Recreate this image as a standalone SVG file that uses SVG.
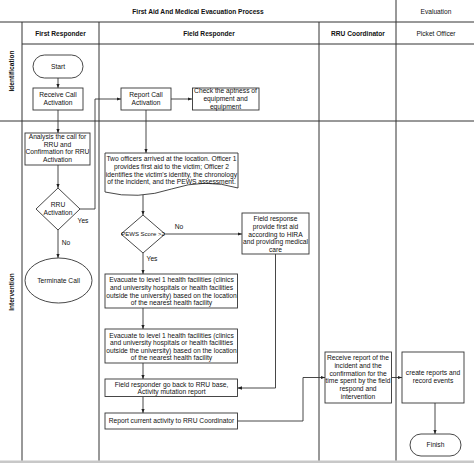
<svg xmlns="http://www.w3.org/2000/svg" width="474" height="463" viewBox="0 0 474 463">
<style>
  .lane{stroke:#333;stroke-width:1;fill:none}
  .box{fill:#fff;stroke:#333;stroke-width:0.9}
  .t{font-family:"Liberation Sans",Arial,sans-serif;font-size:6.7px;fill:#111;text-anchor:middle}
  .h{font-family:"Liberation Sans",Arial,sans-serif;font-size:6.6px;font-weight:bold;fill:#111;text-anchor:middle}
  .hr{font-family:"Liberation Sans",Arial,sans-serif;font-size:6.6px;fill:#111;text-anchor:middle}
  .c{fill:none;stroke:#333;stroke-width:0.9}
</style>
<defs>
  <marker id="ah" viewBox="0 0 10 10" refX="10" refY="5" markerWidth="4.5" markerHeight="4.5" markerUnits="userSpaceOnUse" orient="auto">
    <path d="M0,1 L10,5 L0,9 Z" fill="#222"/>
  </marker>
</defs>
<rect x="0" y="0" width="474" height="463" fill="#fff"/>
<rect x="0" y="460.5" width="474" height="2.5" fill="#c8c8c8"/>

<g id="pool">
  <line class="lane" x1="0" y1="22" x2="474" y2="22"/>
  <line class="lane" x1="22" y1="44" x2="474" y2="44"/>
  <line class="lane" x1="0" y1="121" x2="474" y2="121"/>
  <line class="lane" x1="22" y1="22" x2="22" y2="460.5"/>
  <line class="lane" x1="99" y1="22" x2="99" y2="460.5"/>
  <line class="lane" x1="319" y1="22" x2="319" y2="460.5"/>
  <line class="lane" x1="396" y1="0" x2="396" y2="460.5"/>
  <text class="h" x="198" y="13.5">First Aid And Medical Evacuation Process</text>
  <text class="hr" x="436" y="13.5">Evaluation</text>
  <text class="h" x="60.5" y="35.5">First Responder</text>
  <text class="h" x="209" y="35.5">Field Responder</text>
  <text class="h" x="358" y="35.5">RRU Coordinator</text>
  <text class="hr" x="436" y="35.5">Picket Officer</text>
  <text class="h" transform="translate(13.5,71) rotate(-90)">Identification</text>
  <text class="h" transform="translate(13.5,292) rotate(-90)">Intervention</text>
</g>

<g id="connectors">
  <path class="c" d="M58,78 V88" marker-end="url(#ah)"/>
  <path class="c" d="M58,110 V133" marker-end="url(#ah)"/>
  <path class="c" d="M58,165 V188" marker-end="url(#ah)"/>
  <path class="c" d="M58,230 V258" marker-end="url(#ah)"/>
  <path class="c" d="M80,209 H95 V99 H121" marker-end="url(#ah)"/>
  <path class="c" d="M171,99 H192" marker-end="url(#ah)"/>
  <path class="c" d="M146,110 V153" marker-end="url(#ah)"/>
  <path class="c" d="M143,195 V215" marker-end="url(#ah)"/>
  <path class="c" d="M165,234 H242" marker-end="url(#ah)"/>
  <path class="c" d="M143,253 V274" marker-end="url(#ah)"/>
  <path class="c" d="M143,308 V329" marker-end="url(#ah)"/>
  <path class="c" d="M143,363 V379" marker-end="url(#ah)"/>
  <path class="c" d="M143,396.5 V413" marker-end="url(#ah)"/>
  <path class="c" d="M275.5,254 V388 H237.5" marker-end="url(#ah)"/>
  <path class="c" d="M237.5,421 H303 V377.5 H325" marker-end="url(#ah)"/>
  <path class="c" d="M391.5,377.5 H402" marker-end="url(#ah)"/>
  <path class="c" d="M435,403 V434" marker-end="url(#ah)"/>
  <text class="t" x="83" y="222.5">Yes</text>
  <text class="t" x="66" y="244.5">No</text>
  <text class="t" x="179" y="228.5">No</text>
  <text class="t" x="152" y="260.5">Yes</text>
</g>

<g id="start">
  <rect class="box" x="33" y="55" width="50" height="23" rx="11.5"/>
  <text class="t" x="58" y="68.5">Start</text>
</g>
<g id="receive-call">
  <rect class="box" x="33" y="88" width="50" height="22"/>
  <text class="t" x="58" y="97.4">Receive Call</text>
  <text class="t" x="58" y="105.4">Activation</text>
</g>
<g id="report-call">
  <rect class="box" x="121" y="88" width="50" height="22"/>
  <text class="t" x="146" y="97.4">Report Call</text>
  <text class="t" x="146" y="105.4">Activation</text>
</g>
<g id="check-aptness">
  <rect class="box" x="192.5" y="88" width="66.5" height="22"/>
  <text class="t" x="225.5" y="93.4">Check the aptness of</text>
  <text class="t" x="225.5" y="101.4">equipment and</text>
  <text class="t" x="225.5" y="109.2">equipment</text>
</g>
<g id="analysis">
  <rect class="box" x="25" y="133" width="65" height="32"/>
  <text class="t" x="57.5" y="139.4">Analysis the call for</text>
  <text class="t" x="57.5" y="146.9">RRU and</text>
  <text class="t" x="57.5" y="154.4">Confirmation for RRU</text>
  <text class="t" x="57.5" y="162.2">Activation</text>
</g>
<g id="rru-activation">
  <path class="box" d="M58,188 L80,209 L58,230 L36,209 Z"/>
  <text class="t" x="58" y="207.4">RRU</text>
  <text class="t" x="58" y="215.4">Activation</text>
</g>
<g id="terminate">
  <ellipse class="box" cx="58.5" cy="280.5" rx="33.5" ry="22.5"/>
  <text class="t" x="58.5" y="282.9">Terminate Call</text>
</g>
<g id="two-officers">
  <path class="box" d="M105,153 H238 V188 Q205,178 171.5,189 Q138,200 105,192 Z"/>
  <text class="t" x="171.5" y="161.4">Two officers arrived at the location. Officer 1</text>
  <text class="t" x="171.5" y="168.9">provides first aid to the victim; Officer 2</text>
  <text class="t" x="171.5" y="176.6">identifies the victim's identity, the chronology</text>
  <text class="t" x="171.5" y="184.2">of the incident, and the PEWS assessment.</text>
</g>
<g id="pews">
  <path class="box" d="M143,215 L165,234 L143,253 L121,234 Z"/>
  <text class="t" style="font-size:6px" x="143" y="236.2">PEWS Score &gt;2</text>
</g>
<g id="field-response">
  <rect class="box" x="242" y="213" width="67" height="41"/>
  <text class="t" x="275.5" y="221.4">Field response</text>
  <text class="t" x="275.5" y="229">provide first aid</text>
  <text class="t" x="275.5" y="236.5">according to HIRA</text>
  <text class="t" x="275.5" y="244.1">and providing medical</text>
  <text class="t" x="275.5" y="251.6">care</text>
</g>
<g id="evacuate-1">
  <rect class="box" x="105" y="274" width="132.5" height="34"/>
  <text class="t" x="171.5" y="282.4">Evacuate to level 1 health facilities (clinics</text>
  <text class="t" x="171.5" y="290">and university hospitals or health facilities</text>
  <text class="t" x="171.5" y="297.6">outside the university) based on the location</text>
  <text class="t" x="171.5" y="305.2">of the nearest health facility</text>
</g>
<g id="evacuate-2">
  <rect class="box" x="105" y="329" width="132.5" height="34"/>
  <text class="t" x="171.5" y="337.6">Evacuate to level 1 health facilities (clinics</text>
  <text class="t" x="171.5" y="345.2">and university hospitals or health facilities</text>
  <text class="t" x="171.5" y="352.8">outside the university) based on the location</text>
  <text class="t" x="171.5" y="360.4">of the nearest health facility</text>
</g>
<g id="go-back">
  <rect class="box" x="105" y="379" width="132.5" height="17.5"/>
  <text class="t" x="171.5" y="386.6">Field responder go back to RRU base,</text>
  <text class="t" x="171.5" y="394.2">Activity mutation report</text>
</g>
<g id="report-current">
  <rect class="box" x="105" y="413" width="132.5" height="16"/>
  <text class="t" x="171.5" y="423.4">Report current activity to RRU Coordinator</text>
</g>
<g id="receive-report">
  <rect class="box" x="325" y="352" width="66.5" height="51"/>
  <text class="t" x="358" y="360.4">Receive report of the</text>
  <text class="t" x="358" y="368">incident and the</text>
  <text class="t" x="358" y="375.6">confirmation for the</text>
  <text class="t" x="358" y="383.3">time spent by the field</text>
  <text class="t" x="358" y="391">respond and</text>
  <text class="t" x="358" y="398.7">intervention</text>
</g>
<g id="create-reports">
  <rect class="box" x="402" y="352" width="62" height="51"/>
  <text class="t" x="433" y="375.4">create reports and</text>
  <text class="t" x="433" y="383.2">record events</text>
</g>
<g id="finish">
  <rect class="box" x="410" y="434" width="51" height="22" rx="11"/>
  <text class="t" x="435.5" y="447.4">Finish</text>
</g>
</svg>
